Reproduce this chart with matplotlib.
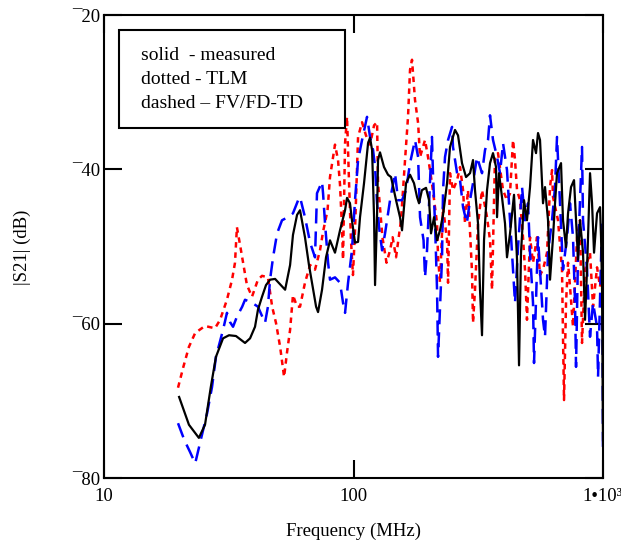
import matplotlib
matplotlib.use("Agg")
import matplotlib.pyplot as plt
from matplotlib.patches import Rectangle
from matplotlib.ticker import NullLocator

plt.rcParams['font.family'] = ['Liberation Serif', 'DejaVu Serif']

# ---- measured (solid black) ----
meas_f = [20.0, 21.9, 24.0, 25.4, 26.8, 28.1, 30.0, 31.7, 33.8, 36.75, 38.5, 40.3,
          41.4, 43.0, 44.6, 46.3, 48.5, 50.8, 53.2, 55.7, 57.2, 59.4, 61.05, 63.9,
          66.3, 68.2, 70.8, 72.1, 74.8, 77.6, 80.5, 84.3, 88.3, 92.5, 94.2, 96.8,
          98.6, 101.4, 104.3, 106.2, 110.2, 114.4, 116.5, 118.7, 120.9, 122.0, 124.3,
          125.4, 127.7, 132.5, 137.5, 141.4, 148.1, 153.6, 156.5, 162.4, 168.5, 174.8,
          179.8, 183.1, 188.0, 195.3, 200.8, 204.5, 210.3, 216.2, 222.2, 228.5, 237.1,
          243.7, 250.5, 255.2, 262.4, 272.2, 282.5, 293.1, 301.3, 306.9, 315.5, 321.4,
          327.4, 333.5, 342.9, 352.5, 362.4, 372.6, 376.1, 383.0, 393.7, 404.8, 412.3,
          424.0, 439.9, 452.3, 460.7, 469.2, 482.4, 495.8, 509.9, 524.2, 538.9, 549.0,
          559.2, 574.9, 585.6, 602.1, 613.3, 630.5, 642.2, 654.1, 678.8, 691.4, 710.9,
          724.2, 744.4, 765.3, 779.7, 794.3, 808.9, 831.6, 847.2, 862.9, 887.2, 903.8,
          920.6, 946.5, 973.0, 982.1, 991.0, 1000.0]
meas_db = [-69.5, -73.1, -74.8, -73.1, -68.2, -64.3, -61.9, -61.5, -61.6, -62.5, -61.9, -60.4,
           -58.2, -56.5, -55.0, -54.3, -54.2, -54.9, -55.6, -52.4, -48.5, -45.9, -45.3, -48.8,
           -52.4, -54.7, -57.8, -58.5, -55.6, -51.4, -49.2, -50.8, -47.9, -45.3, -43.7, -44.4,
           -46.6, -49.5, -49.4, -46.2, -41.8, -36.6, -35.9, -37.5, -46.2, -55.0, -45.9,
           -38.8, -37.8, -39.7, -40.7, -41.0, -44.0, -46.2, -47.9, -41.8, -40.7, -41.8,
           -43.6, -44.4, -42.7, -42.4, -44.0, -48.3, -46.2, -49.2, -47.9, -45.9, -41.8,
           -37.1, -35.8, -34.9, -35.6, -39.2, -41.0, -40.5, -38.8, -42.7, -47.0, -55.6,
           -61.5, -49.2, -42.7, -39.2, -37.9, -39.7, -46.2, -40.5, -43.6, -47.0, -51.4,
           -48.3, -43.3, -51.7, -65.4, -50.8, -44.0, -46.6, -42.3, -36.2, -37.9, -35.3,
           -36.2, -44.4, -42.3, -46.6, -54.3, -48.8, -44.4, -40.5, -39.2, -46.6, -50.1,
           -45.7, -42.3, -41.4, -46.6, -51.7, -46.6, -50.8, -59.5, -53.0, -40.5, -44.4,
           -50.8, -45.7, -44.9, -48.8, -55.2, -75.1]

# ---- TLM (dotted red) ----
tlm_f = [19.8, 20.8, 21.9, 23.2, 25.4, 27.85, 29.2, 31.1, 32.6, 33.5, 34.1, 35.1, 36.1,
         37.4, 39.2, 41.4, 43.0, 45.4, 47.2, 48.9, 50.8, 52.7, 54.1, 55.7, 57.2, 59.4,
         61.05, 63.9, 67.0, 70.1, 73.4, 75.5, 78.7, 80.5, 84.3, 86.7, 88.3, 90.0, 90.8,
         92.5, 94.2, 95.9, 97.7, 99.5, 101.4, 104.3, 108.2, 112.2, 116.5, 120.9, 124.3,
         125.4, 130.6, 135.6, 140.1, 143.5, 148.1, 155.0, 160.9, 165.4, 168.5, 171.6,
         176.4, 181.5, 184.8, 193.5, 198.9, 206.3, 216.2, 218.2, 222.2, 228.5, 237.1,
         239.3, 243.7, 250.5, 260.1, 267.3, 274.8, 279.9, 287.7, 298.6, 301.3, 306.9,
         315.5, 327.4, 342.9, 352.5, 359.1, 369.1, 379.5, 397.4, 412.3, 424.0, 435.9,
         444.0, 452.3, 464.9, 477.9, 486.9, 495.8, 509.9, 524.2, 544.0, 559.2, 574.9,
         596.6, 613.3, 624.8, 630.5, 660.2, 685.1, 691.4, 697.9, 710.9, 724.2, 737.6,
         758.2, 787.0, 808.9, 824.0, 847.2, 887.2, 912.1, 946.5, 973.0, 1000.0]
tlm_db = [-68.3, -65.6, -63.0, -61.2, -60.3, -60.6, -59.5, -56.9, -54.3, -52.1, -47.5, -49.8, -52.1,
          -55.0, -56.5, -54.3, -53.8, -54.0, -57.8, -59.9, -63.0, -66.9, -63.8, -60.8, -56.3, -57.8,
          -57.8, -54.7, -52.4, -53.0, -50.5, -48.1, -45.3, -41.0, -36.8, -38.8, -42.0, -47.9, -51.7,
          -36.6, -33.2, -41.4, -49.2, -53.7, -47.9, -35.8, -33.9, -35.6, -36.8, -34.3, -33.9,
          -41.8, -48.8, -52.1, -50.5, -48.8, -51.4, -46.6, -38.8, -33.2, -27.1, -25.8,
          -31.0, -34.0, -38.4, -36.2, -38.4, -41.8, -47.0, -51.4, -54.7, -44.9, -49.2,
          -54.7, -40.5, -42.7, -41.4, -39.7, -42.7, -47.0, -42.7, -53.4, -59.9, -55.6,
          -47.0, -42.7, -46.2, -49.2, -55.6, -38.4, -37.9, -42.7, -44.0, -43.1, -36.2,
          -38.8, -42.7, -44.0, -48.8, -53.0, -59.5, -48.8, -52.1, -48.8, -53.7, -53.0,
          -50.8, -42.3, -40.1, -43.6, -46.6, -53.0, -61.7, -69.9, -57.3, -52.1, -55.2,
          -60.4, -48.8, -46.6, -62.5, -53.0, -50.8, -57.8, -52.7, -55.2, -51.7]

# ---- FV/FD-TD (dashed blue) ----
fv_f = [19.8, 21.0, 22.1, 23.2, 24.25, 25.9, 27.1, 28.1, 30.0, 31.1, 32.0, 32.9, 34.1,
        35.8, 36.75, 39.2, 41.4, 44.2, 45.4, 46.3, 47.6, 49.4, 51.7, 54.6, 57.2, 60.0,
        61.05, 63.9, 67.0, 70.1, 71.4, 74.8, 75.5, 76.9, 79.1, 80.5, 84.3, 88.3, 90.8,
        92.5, 95.1, 98.6, 101.4, 104.3, 108.2, 113.3, 116.5, 119.8, 122.0, 124.3, 126.6,
        130.2, 133.8, 140.1, 146.7, 150.9, 156.5, 162.4, 168.5, 176.4, 181.5, 184.8,
        190.9, 193.5, 197.1, 202.6, 206.3, 208.2, 212.2, 216.2, 218.2, 222.2, 226.4,
        228.5, 232.7, 239.3, 248.3, 250.5, 260.1, 267.3, 274.8, 284.6, 293.1, 301.3,
        312.6, 327.4, 336.6, 346.1, 352.5, 362.4, 376.1, 386.6, 397.4, 412.3, 424.0,
        435.9, 444.0, 456.5, 473.7, 486.9, 500.7, 509.9, 524.2, 529.1, 544.0, 549.0,
        559.2, 574.9, 585.6, 602.1, 624.8, 642.2, 654.1, 672.6, 691.4, 717.5, 737.6,
        758.2, 772.5, 779.7, 794.3, 824.0, 831.6, 862.9, 887.2, 912.1, 946.5, 955.3,
        991.0, 1000.0]
fv_db = [-72.9, -75.1, -76.6, -78.1, -75.5, -71.6, -68.2, -64.3, -60.8, -58.6, -59.8, -60.4, -59.1,
         -57.8, -56.9, -57.3, -57.8, -59.9, -57.8, -54.3, -51.4, -48.3, -46.6, -46.2, -45.7, -44.0,
         -43.6, -46.2, -49.5, -51.4, -43.1, -41.6, -43.1, -47.0, -52.1, -54.3, -54.0, -54.7, -57.3,
         -58.6, -54.7, -50.5, -44.0, -38.8, -36.2, -33.2, -35.8, -37.5, -39.7, -44.4, -47.5,
         -50.5, -48.3, -44.0, -40.5, -44.0, -44.0, -42.7, -39.2, -36.2, -38.4, -46.2,
         -49.2, -54.0, -50.5, -41.8, -35.8, -40.5, -47.0, -55.6, -64.3, -57.8, -51.4,
         -42.7, -38.4, -36.2, -34.5, -37.1, -40.5, -41.4, -44.9, -47.0, -44.0, -41.8,
         -38.4, -40.5, -37.5, -36.2, -33.0, -36.2, -38.4, -40.5, -36.6, -40.1, -46.6,
         -53.0, -57.3, -50.1, -42.3, -46.6, -44.4, -50.8, -57.3, -65.1, -53.0, -48.8,
         -53.0, -59.5, -61.7, -50.8, -46.6, -42.3, -35.8, -44.4, -53.0, -48.8, -44.4,
         -48.8, -57.3, -65.6, -50.8, -37.1, -46.6, -53.0, -61.7, -57.3, -60.4, -66.9,
         -46.6, -77.0]

x_ticks = [10, 100, 1000]
x_tick_labels = ['10', '100', '1\u202210\u00b3']
y_ticks = [-80, -60, -40, -20]
y_tick_labels = ['\u00af80', '\u00af60', '\u00af40', '\u00af20']
legend_lines = ['solid  - measured', 'dotted - TLM', 'dashed \u2013 FV/FD-TD']
x_label = 'Frequency (MHz)'
y_label = '|S21| (dB)'

fig = plt.figure(figsize=(6.21, 5.42), dpi=100)
ax = fig.add_axes([104 / 621, 64 / 542, 499 / 621, 463 / 542])
ax.set_xscale('log')

ax.plot(tlm_f, tlm_db, color='#ff0000', lw=1.8, dashes=(2.2, 1.9))
ax.plot(fv_f, fv_db, color='#0000ff', lw=1.8, dashes=(6.0, 3.2))
ax.plot(meas_f, meas_db, color='black', lw=1.6)

ax.set_xlim(10, 1000)
ax.set_ylim(-80, -20)
ax.set_xticks(x_ticks)
ax.set_xticklabels(x_tick_labels)
ax.xaxis.set_minor_locator(NullLocator())
ax.set_yticks(y_ticks)
ax.set_yticklabels(y_tick_labels)
ax.tick_params(which='major', direction='in', length=13, width=1.5,
               top=True, right=True, labelsize=13.5, colors='black')
ax.tick_params(axis='x', pad=7)
ax.tick_params(axis='y', pad=3)
for s in ax.spines.values():
    s.set_linewidth(1.5)

fig.text(353 / 621, 1 - 531 / 542, x_label, ha='center', va='center', fontsize=13.5)
fig.text(22 / 621, 1 - 247 / 542, y_label, ha='center', va='center',
         rotation=90, fontsize=13.5)

box = Rectangle((0.030, 0.756), 0.453, 0.2114, transform=ax.transAxes,
                facecolor='white', edgecolor='black', lw=1.5, zorder=5)
ax.add_patch(box)
for i, t in enumerate(legend_lines):
    ax.text(0.074, 0.913 - i * 0.052, t, transform=ax.transAxes,
            ha='left', va='center', fontsize=14, zorder=6)

fig.savefig('out.png', dpi=100)
